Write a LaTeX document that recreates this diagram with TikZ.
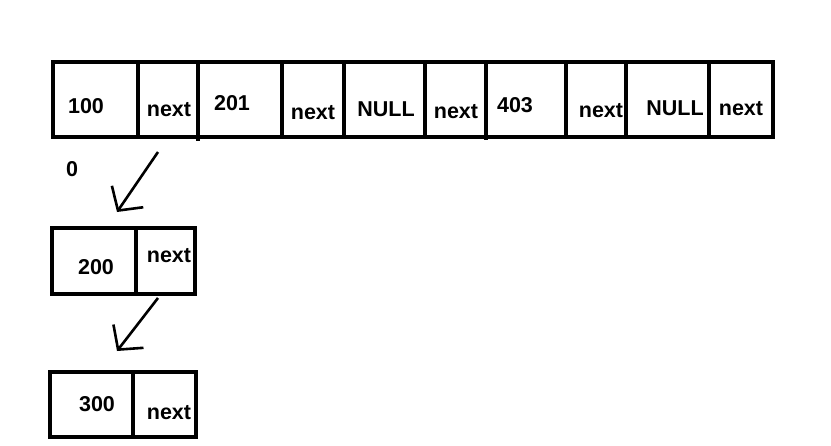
\documentclass[tikz,border=0pt]{standalone}
\usepackage{fontspec}
\setmainfont{Liberation Sans}
\usetikzlibrary{arrows.meta}
\begin{document}
\begin{tikzpicture}[x=1pt, y=-1pt, line width=3.2pt,
    cell/.style={draw, rectangle, inner sep=0pt, outer sep=0pt, minimum height=75pt},
    txt/.style={font=\fontsize{21.5}{25}\selectfont\bfseries, inner sep=0pt},
    ptr/.style={line width=2.6pt, -{Straight Barb[length=17pt, width=38pt, line width=2.6pt]}}]
    \useasboundingbox (0,0) rectangle (831,445);
    % Top row
    \node[cell, minimum width=85pt] (c100) at (95.5,99.5) {};
    \node[cell, minimum width=60pt] (n100) at (168,99.5) {};
    \node[cell, minimum width=84pt] (c201) at (240,99.5) {};
    \node[cell, minimum width=62pt] (n201) at (313,99.5) {};
    \node[cell, minimum width=81pt] (cnull1) at (384.5,99.5) {};
    \node[cell, minimum width=61pt] (nnull1) at (455.5,99.5) {};
    \node[cell, minimum width=80pt] (c403) at (526,99.5) {};
    \node[cell, minimum width=60pt] (n403) at (596,99.5) {};
    \node[cell, minimum width=83pt] (cnull2) at (667.5,99.5) {};
    \node[cell, minimum width=64pt] (nnull2) at (741,99.5) {};
    \draw (198,137) -- (198,141);
    \draw (486,137) -- (486,140);
    \node[txt] (t100) at (86,106) {100};
    \node[txt] (tn100) at (169,110) {next};
    \node[txt] (t201) at (232,103) {201};
    \node[txt] (tn201) at (313,113) {next};
    \node[txt] (tnull1) at (386,109) {NULL};
    \node[txt] (tnnull1) at (456,112) {next};
    \node[txt] (t403) at (515,105) {403};
    \node[txt] (tn403) at (601,111) {next};
    \node[txt] (tnull2) at (675,108) {NULL};
    \node[txt] (tnnull2) at (741,109) {next};
    \node[txt] (tzero) at (72,169) {0};
    % Second node
    \node[cell, minimum width=84pt, minimum height=66pt] (c200) at (94,261) {};
    \node[cell, minimum width=59pt, minimum height=66pt] (n200) at (165.5,261) {};
    \node[txt] (t200) at (96,267) {200};
    \node[txt] (tn200) at (169,256) {next};
    % Third node
    \node[cell, minimum width=83pt, minimum height=65pt] (c300) at (91.5,404.5) {};
    \node[cell, minimum width=63pt, minimum height=65pt] (n300) at (164.5,404.5) {};
    \node[txt] (t300) at (97,404) {300};
    \node[txt] (tn300) at (169,413) {next};
    % Pointers
    \draw[ptr] ([xshift=-10pt, yshift=-15pt]n100.south) -- ([xshift=23pt, yshift=16pt]c200.north);
    \draw[ptr] ([xshift=-7.5pt, yshift=-4pt]n200.south) -- ([xshift=25.5pt, yshift=21pt]c300.north);
\end{tikzpicture}
\end{document}
